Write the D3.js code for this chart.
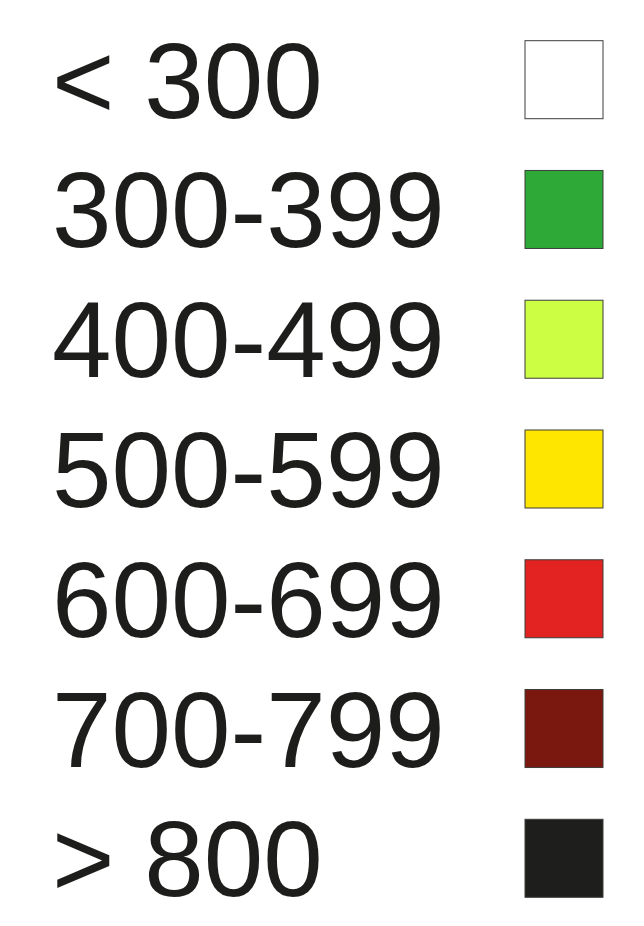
<!DOCTYPE html>
<html>
<head>
<meta charset="utf-8">
<script src="https://cdn.jsdelivr.net/npm/d3@7"></script>
<style>
  html, body { margin: 0; padding: 0; background: #ffffff; }
  svg { display: block; }
</style>
</head>
<body>
<script>
// Legend classes
const labels = ["< 300", "300-399", "400-499", "500-599", "600-699", "700-799", "> 800"];
const colors = ["#ffffff", "#2ea836", "#ccff44", "#ffe600", "#e32322", "#7a1810", "#1e1e1c"];

const W = 644, H = 926;
const svg = d3.select("body").append("svg").attr("width", W).attr("height", H);

const boxSize = 78;
const y = d3.scalePoint().domain(labels).range([40.7, 819.3]);
const color = d3.scaleOrdinal().domain(labels).range(colors);

const rows = svg.selectAll("g.row").data(labels).join("g")
  .attr("class", "row")
  .attr("transform", d => `translate(0,${y(d)})`);

rows.append("rect")
  .attr("x", 525)
  .attr("y", 0)
  .attr("width", boxSize)
  .attr("height", boxSize)
  .attr("fill", d => color(d))
  .attr("stroke", "#3c3c3b")
  .attr("stroke-width", 1);

rows.append("text")
  .attr("x", 52)
  .attr("y", boxSize - 1)
  .attr("font-family", "'Liberation Sans', Arial, sans-serif")
  .attr("font-size", 107)
  .attr("fill", "#1d1d1b")
  .text(d => d);
</script>
</body>
</html>
